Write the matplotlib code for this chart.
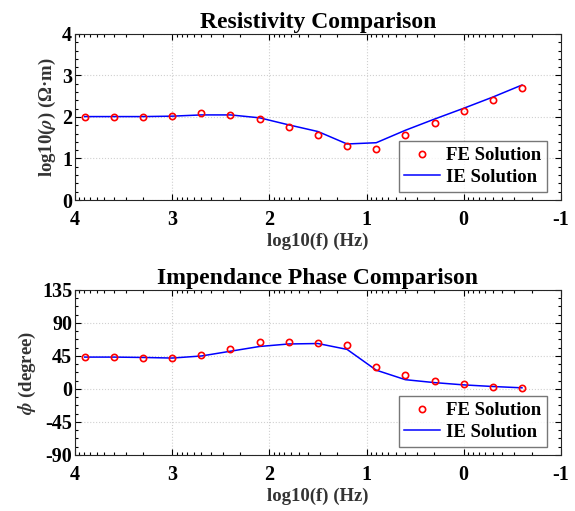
import numpy as np
import matplotlib
matplotlib.use('Agg')
import matplotlib.pyplot as plt
from matplotlib.ticker import FixedLocator, FixedFormatter, AutoMinorLocator, LogLocator, NullFormatter

# log10 of frequency (Hz)
logf = [3.9, 3.6, 3.3, 3.0, 2.7, 2.4, 2.1, 1.8, 1.5, 1.2, 0.9, 0.6, 0.3, 0.0, -0.3, -0.6]

# log10 apparent resistivity
rho_fe = [2.00, 2.00, 2.00, 2.02, 2.09, 2.06, 1.96, 1.76, 1.57, 1.29, 1.22, 1.57, 1.86, 2.14, 2.42, 2.70]
rho_ie = [2.01, 2.01, 2.01, 2.02, 2.05, 2.05, 1.98, 1.81, 1.65, 1.35, 1.38, 1.68, 1.95, 2.21, 2.48, 2.77]

# impedance phase (degree)
phi_fe = [44.0, 44.0, 42.8, 42.8, 46.6, 54.7, 64.0, 64.0, 63.0, 60.5, 29.7, 19.0, 10.5, 7.4, 3.4, 1.1]
phi_ie = [43.5, 43.5, 43.0, 42.2, 45.0, 51.5, 58.0, 61.4, 62.0, 54.0, 25.7, 12.7, 8.7, 5.6, 3.4, 1.6]

xticks = [4, 3, 2, 1, 0, -1]

plt.rcParams['font.family'] = ['Liberation Serif', 'DejaVu Serif']
plt.rcParams['font.weight'] = 'bold'
plt.rcParams['mathtext.fontset'] = 'stix'
plt.rcParams['axes.unicode_minus'] = False

freq = 10.0 ** np.array(logf)

fig = plt.figure(figsize=(5.75, 5.11), dpi=100)
ax1 = fig.add_axes([0.1304, 0.6086, 0.845, 0.3249])
ax2 = fig.add_axes([0.1304, 0.1096, 0.845, 0.3229])


def style(ax, ylim, yticks, nminor, title, ylabel):
    ax.set_xscale('log')
    ax.set_xlim(10.0 ** 4, 10.0 ** -1)
    ax.xaxis.set_major_locator(FixedLocator([10.0 ** t for t in xticks]))
    ax.xaxis.set_major_formatter(FixedFormatter([str(t) for t in xticks]))
    ax.xaxis.set_minor_locator(LogLocator(base=10, subs=np.arange(2, 10)))
    ax.xaxis.set_minor_formatter(NullFormatter())
    ax.set_ylim(*ylim)
    ax.set_yticks(yticks)
    ax.set_yticklabels([str(t) for t in yticks])
    ax.yaxis.set_minor_locator(AutoMinorLocator(nminor))
    ax.tick_params(which='both', direction='in', top=True, right=True,
                   labelsize=14.5, width=0.8)
    ax.tick_params(which='major', length=4)
    ax.tick_params(which='minor', length=2.5)
    ax.tick_params(axis='x', pad=7)
    ax.tick_params(axis='y', pad=2)
    for lab in ax.get_xticklabels() + ax.get_yticklabels():
        lab.set_fontweight('bold')
    ax.grid(True, which='major', linestyle=':', color='#d0d0d0', linewidth=0.8)
    ax.set_title(title, fontsize=17, fontweight='bold', pad=4)
    ax.set_xlabel('log10(f) (Hz)', fontsize=13.5, fontweight='bold', color='#333333',
                  labelpad=2)
    ax.set_ylabel(ylabel, fontsize=13.5, fontweight='bold', color='#333333',
                  labelpad=3)
    for s in ax.spines.values():
        s.set_linewidth(0.8)
        s.set_color('#262626')


ax1.plot(freq, rho_fe, 'o', mfc='none', mec='red', ms=4.5, mew=1.2, label='FE Solution', zorder=3)
ax1.plot(freq, rho_ie, '-', color='blue', lw=1.1, label='IE Solution')
style(ax1, (0, 4), [0, 1, 2, 3, 4], 5, 'Resistivity Comparison',
      'log10($\\rho$) (\u03a9\u00b7m)')

ax2.plot(freq, phi_fe, 'o', mfc='none', mec='red', ms=4.5, mew=1.2, label='FE Solution', zorder=3)
ax2.plot(freq, phi_ie, '-', color='blue', lw=1.1, label='IE Solution')
style(ax2, (-90, 135), [-90, -45, 0, 45, 90, 135], 4, 'Impendance Phase Comparison',
      r'$\phi$ (degree)')

for ax in (ax1, ax2):
    leg = ax.legend(loc='lower right', fontsize=13.5, frameon=True, fancybox=False,
                    borderaxespad=0.45, handlelength=1.9, handletextpad=0.3,
                    borderpad=0.3, labelspacing=0.25, bbox_to_anchor=(0.988, 0.0))
    leg.get_frame().set_edgecolor('#555555')
    leg.get_frame().set_linewidth(1.0)
    for t in leg.get_texts():
        t.set_fontweight('bold')

fig.savefig('out.png', dpi=100)
